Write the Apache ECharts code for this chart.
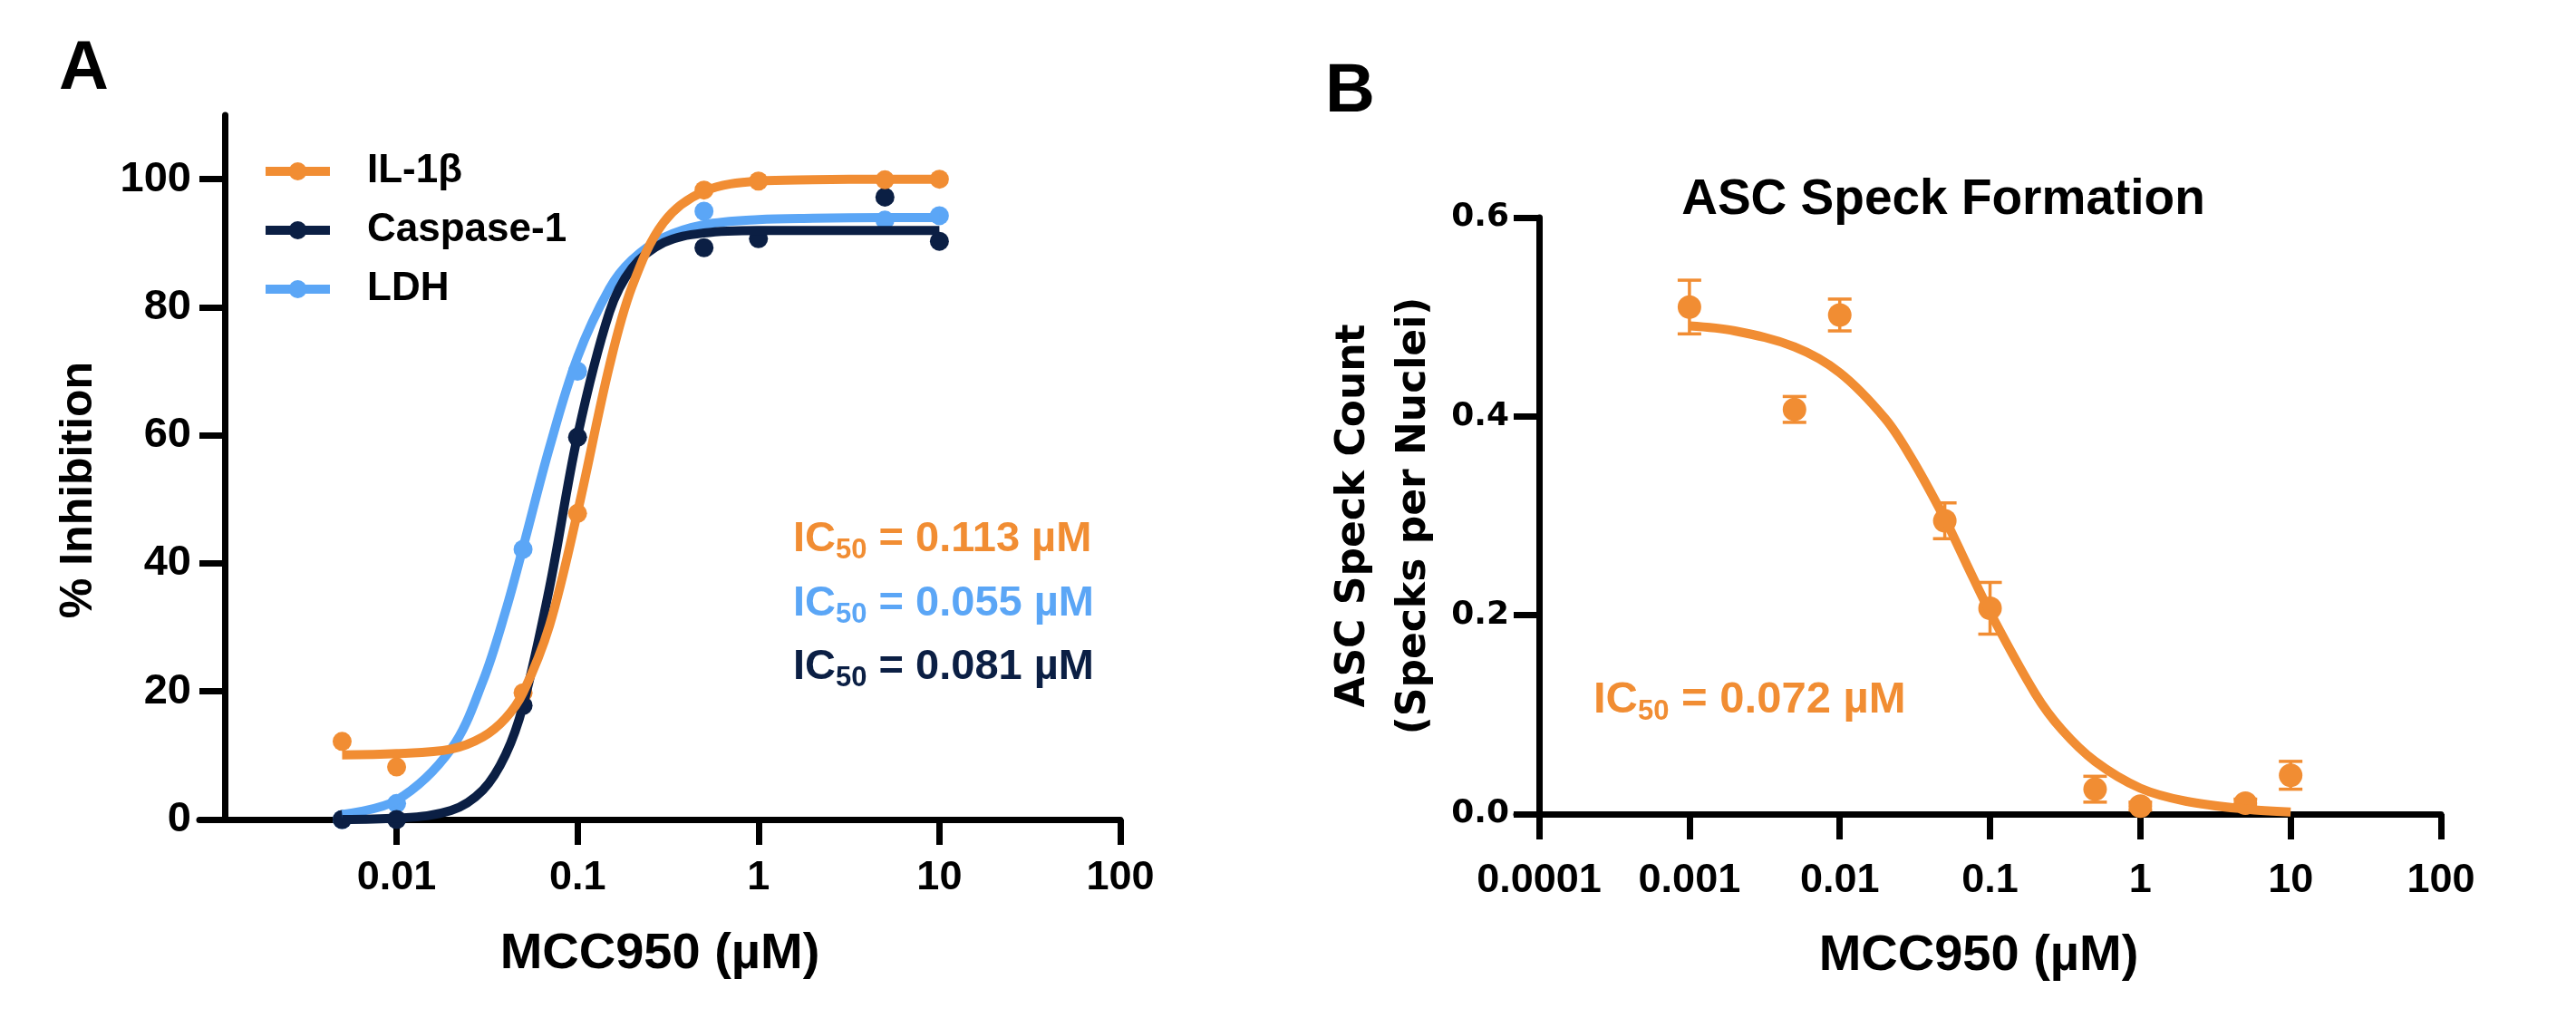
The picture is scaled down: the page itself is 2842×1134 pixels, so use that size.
<!DOCTYPE html>
<html lang="en">
<head>
<meta charset="UTF-8">
<title>MCC950 inhibition curves</title>
<script src="https://cdn.jsdelivr.net/npm/echarts@6/dist/echarts.min.js"></script>
<style>
  body { margin: 0; background: #fff; }
  #main { width: 2842px; height: 1134px; }
</style>
</head>
<body>
<div id="main"></div>
<script>
// ---- panel A: % inhibition, measured points ----
const doseA = [0.005, 0.01, 0.05, 0.1, 0.5, 1, 5, 10];
const il1bPts = [12.2, 8.2, 19.8, 47.8, 98.3, 99.7, 99.9, 100];
const casp1Pts = [0, 0, 17.8, 59.7, 89.3, 90.7, 97.2, 90.3];
const ldhPts = [0, 2.5, 42.2, 70.0, 95.0, null, 93.6, 94.3];

// fitted curves
const fitDoseA = [0.005, 0.01, 0.02, 0.03, 0.04, 0.05, 0.07, 0.1, 0.15, 0.2, 0.3, 0.5, 1, 2, 5, 10];
const il1bFit = [10.1, 10.3, 11.0, 12.9, 15.8, 19.8, 30.3, 48.0, 70.8, 83.2, 93.3, 98.1, 99.7, 99.9, 100, 100];
const casp1Fit = [0.0, 0.2, 1.4, 4.6, 10.1, 17.8, 36.2, 59.9, 79.2, 86.1, 90.1, 91.6, 92.0, 92.0, 92.0, 92.0];
const ldhFit = [0.8, 3.0, 11.0, 21.6, 32.5, 42.5, 58.1, 72.2, 82.9, 87.4, 90.9, 92.9, 93.7, 93.9, 94.0, 94.0];

const xTicksA = [0.01, 0.1, 1, 10, 100];
const yTicksA = [0, 20, 40, 60, 80, 100];
const ic50A = ['0.113', '0.055', '0.081'];

// ---- panel B: ASC speck count ----
const doseB = [0.001, 0.005, 0.01, 0.05, 0.1, 0.5, 1, 5, 10];
const speckMean = [0.510, 0.407, 0.502, 0.295, 0.207, 0.025, 0.008, 0.011, 0.039];
const speckErr = [0.027, 0.013, 0.016, 0.018, 0.026, 0.013, 0.004, 0.004, 0.014];
const fitDoseB = [0.001, 0.002, 0.005, 0.01, 0.02, 0.03, 0.05, 0.07, 0.1, 0.2, 0.3, 0.5, 1, 2, 5, 10];
const speckFit = [0.491, 0.486, 0.470, 0.444, 0.398, 0.358, 0.297, 0.251, 0.203, 0.121, 0.085, 0.053, 0.026, 0.013, 0.005, 0.002];
const xTicksB = [0.0001, 0.001, 0.01, 0.1, 1, 10, 100];
const yTicksB = [0, 0.2, 0.4, 0.6];
const ic50B = '0.072';

const ORANGE = '#F18D33';
const NAVY = '#0B1F44';
const SKY = '#5BA6F6';
const FONT = '"Liberation Sans", Arial, sans-serif';
const VFONT = '"DejaVu Sans", Verdana, sans-serif';

const pairs = (xs, ys) => xs.map((x, i) => [x, ys[i]]);
const fmtLog = v => String(parseFloat(Number(v).toPrecision(6)));

function axisBase(ticks, labelSize, margin, labelFont) {
  return {
    axisLine: { show: true, onZero: false, lineStyle: { color: '#000', width: 7 } },
    axisTick: { show: true, length: 28, customValues: ticks, lineStyle: { color: '#000', width: 7 } },
    axisLabel: {
      customValues: ticks, margin: margin, color: '#000',
      fontSize: labelSize, fontWeight: 'bold', fontFamily: labelFont || FONT
    },
    splitLine: { show: false },
    nameTextStyle: { color: '#000', fontSize: 56, fontWeight: 'bold', fontFamily: FONT }
  };
}

function curve(name, xs, ys, color, xi) {
  return {
    name: name, type: 'line', xAxisIndex: xi, yAxisIndex: xi,
    data: pairs(xs, ys), smooth: 0.35, showSymbol: false, symbol: 'circle',
    lineStyle: { color: color, width: 10 }, itemStyle: { color: color }
  };
}

function points(name, xs, ys, color, xi, size) {
  return {
    name: name, type: 'scatter', xAxisIndex: xi, yAxisIndex: xi,
    data: pairs(xs, ys).filter(p => p[1] != null),
    symbolSize: size, itemStyle: { color: color, opacity: 1 }
  };
}

function ic50Text(x, yBottom, value, color, size) {
  return {
    type: 'text', x: x, y: yBottom,
    style: {
      text: '{m|IC}{s|50}{m| = ' + value + ' µM}',
      fill: color, verticalAlign: 'bottom', align: 'left',
      rich: {
        m: { fontSize: size, lineHeight: size, fontWeight: 'bold', fontFamily: FONT, fill: color, verticalAlign: 'bottom', padding: [0, 0, 4, 0] },
        s: { fontSize: 31, lineHeight: 31, fontWeight: 'bold', fontFamily: FONT, fill: color, verticalAlign: 'bottom' }
      }
    }
  };
}

const chart = echarts.init(document.getElementById('main'), null, { renderer: 'canvas' });

const xA = Object.assign(axisBase(xTicksA, 45, 42), {
  gridIndex: 0, type: 'log', logBase: 10, min: 0.000813, max: 100,
  name: 'MCC950 (µM)', nameLocation: 'middle', nameGap: 121
});
xA.axisLabel.formatter = fmtLog;

const yA = Object.assign(axisBase(yTicksA, 47, 37), {
  gridIndex: 0, type: 'value', min: 0, max: 110, offset: -28,
  name: '% Inhibition', nameLocation: 'middle', nameGap: 136
});
yA.nameTextStyle = { color: '#000', fontSize: 50, fontWeight: 'bold', fontFamily: FONT, padding: [0, 50, 0, 0] };

const xB = Object.assign(axisBase(xTicksB, 45, 51), {
  gridIndex: 1, type: 'log', logBase: 10, min: 0.0000706, max: 100,
  name: 'MCC950 (µM)', nameLocation: 'middle', nameGap: 129
});
xB.axisLabel.formatter = fmtLog;

const yB = Object.assign(axisBase(yTicksB, 36, 33, VFONT), {
  gridIndex: 1, type: 'value', min: 0, max: 0.6, offset: -25,
  name: 'ASC Speck Count\n(Specks per Nuclei)', nameLocation: 'middle', nameGap: 104
});
yB.axisLabel.formatter = v => Number(v).toFixed(1);
yB.nameTextStyle = { color: '#000', fontSize: 44, lineHeight: 67, fontWeight: 'bold', fontFamily: VFONT };

const option = {
  animation: false,
  backgroundColor: '#fff',
  grid: [
    { left: 220, top: 127, width: 1016, height: 777 },
    { left: 1673, top: 240, width: 1020, height: 658 }
  ],
  xAxis: [xA, xB],
  yAxis: [yA, yB],
  legend: {
    data: ['IL-1β', 'Caspase-1', 'LDH'],
    orient: 'vertical', left: 283, top: 162,
    itemWidth: 71, itemHeight: 25, itemGap: 21,
    selectedMode: false,
    lineStyle: { width: 'inherit' },
    textStyle: { color: '#000', fontSize: 44, fontWeight: 'bold', fontFamily: FONT, padding: [0, 0, 0, 36] }
  },
  series: [
    curve('LDH', fitDoseA, ldhFit, SKY, 0),
    points('LDH data', doseA, ldhPts, SKY, 0, 21),
    curve('Caspase-1', fitDoseA, casp1Fit, NAVY, 0),
    points('Caspase-1 data', doseA, casp1Pts, NAVY, 0, 21),
    curve('IL-1β', fitDoseA, il1bFit, ORANGE, 0),
    points('IL-1β data', doseA, il1bPts, ORANGE, 0, 21),

    curve('ASC fit', fitDoseB, speckFit, ORANGE, 1),
    {
      name: 'ASC error', type: 'custom', xAxisIndex: 1, yAxisIndex: 1,
      data: doseB.map((d, i) => [d, speckMean[i] - speckErr[i], speckMean[i] + speckErr[i]]),
      renderItem: function (params, api) {
        const lo = api.coord([api.value(0), api.value(1)]);
        const hi = api.coord([api.value(0), api.value(2)]);
        const half = 13;
        const st = { stroke: ORANGE, lineWidth: 3.5 };
        return {
          type: 'group',
          children: [
            { type: 'line', shape: { x1: lo[0], y1: lo[1], x2: hi[0], y2: hi[1] }, style: st },
            { type: 'line', shape: { x1: lo[0] - half, y1: lo[1], x2: lo[0] + half, y2: lo[1] }, style: st },
            { type: 'line', shape: { x1: hi[0] - half, y1: hi[1], x2: hi[0] + half, y2: hi[1] }, style: st }
          ]
        };
      }
    },
    points('ASC data', doseB, speckMean, ORANGE, 1, 26)
  ],
  graphic: [
    { type: 'text', x: 65, y: 77, style: { text: 'A', fill: '#000', fontSize: 76, fontWeight: 'bold', fontFamily: FONT, verticalAlign: 'middle' } },
    { type: 'text', x: 1462, y: 102, style: { text: 'B', fill: '#000', fontSize: 76, fontWeight: 'bold', fontFamily: FONT, verticalAlign: 'middle' } },
    { type: 'text', x: 2144, y: 221, style: { text: 'ASC Speck Formation', fill: '#000', fontSize: 55, fontWeight: 'bold', fontFamily: FONT, align: 'center', verticalAlign: 'middle' } },
    ic50Text(875, 623, ic50A[0], ORANGE, 47),
    ic50Text(875, 694, ic50A[1], SKY, 47),
    ic50Text(875, 764, ic50A[2], NAVY, 47),
    ic50Text(1758, 801, ic50B, ORANGE, 49)
  ]
};

chart.setOption(option);
</script>
</body>
</html>
